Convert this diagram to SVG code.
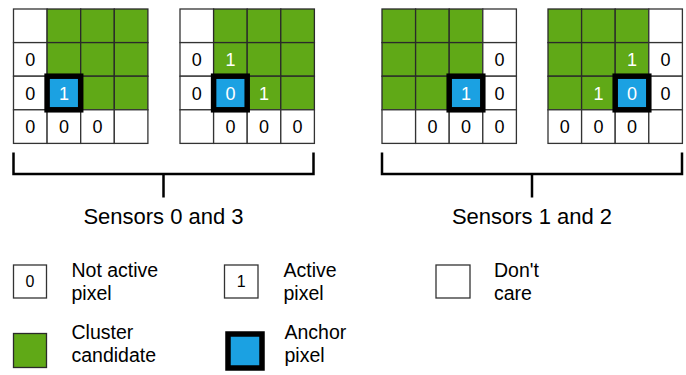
<svg xmlns="http://www.w3.org/2000/svg" width="686" height="375" viewBox="0 0 686 375">
<style>
.w{fill:#ffffff;stroke:#333333;stroke-width:1.3}
.g{fill:#60a917;stroke:#2a2a2a;stroke-width:1.3}
.a{fill:#1ba1e2;stroke:#000000;stroke-width:5.5}
.t{font-family:"Liberation Sans",Arial,sans-serif;font-size:18px;text-anchor:middle;fill:#000}
.tw{font-family:"Liberation Sans",Arial,sans-serif;font-size:18px;text-anchor:middle;fill:#ffffff}
.lbl{font-family:"Liberation Sans",Arial,sans-serif;font-size:22px;text-anchor:middle;fill:#000}
.leg{font-family:"Liberation Sans",Arial,sans-serif;font-size:19.5px;fill:#000}
.ld{font-family:"Liberation Sans",Arial,sans-serif;font-size:16px;text-anchor:middle;fill:#000}
.br{fill:none;stroke:#000;stroke-width:2.5}
</style>
<rect width="686" height="375" fill="#ffffff"/>

<g id="grid1" transform="translate(13.5,9)">
<rect class="w" x="0" y="0" width="33.6" height="33.6"/>
<rect class="g" x="33.6" y="0" width="33.6" height="33.6"/>
<rect class="g" x="67.2" y="0" width="33.6" height="33.6"/>
<rect class="g" x="100.8" y="0" width="33.6" height="33.6"/>
<rect class="w" x="0" y="33.6" width="33.6" height="33.6"/>
<rect class="g" x="33.6" y="33.6" width="33.6" height="33.6"/>
<rect class="g" x="67.2" y="33.6" width="33.6" height="33.6"/>
<rect class="g" x="100.8" y="33.6" width="33.6" height="33.6"/>
<rect class="w" x="0" y="67.2" width="33.6" height="33.6"/>
<rect class="g" x="67.2" y="67.2" width="33.6" height="33.6"/>
<rect class="g" x="100.8" y="67.2" width="33.6" height="33.6"/>
<rect class="w" x="0" y="100.8" width="33.6" height="33.6"/>
<rect class="w" x="33.6" y="100.8" width="33.6" height="33.6"/>
<rect class="w" x="67.2" y="100.8" width="33.6" height="33.6"/>
<rect class="w" x="100.8" y="100.8" width="33.6" height="33.6"/>
<rect class="a" x="33.6" y="67.2" width="33.6" height="33.6"/>
<text class="t" x="16.8" y="57">0</text>
<text class="t" x="16.8" y="90.6">0</text>
<text class="tw" x="50.4" y="90.6">1</text>
<text class="t" x="16.8" y="124.2">0</text>
<text class="t" x="50.4" y="124.2">0</text>
<text class="t" x="84" y="124.2">0</text>
</g>

<g id="grid2" transform="translate(180,9)">
<rect class="w" x="0" y="0" width="33.6" height="33.6"/>
<rect class="g" x="33.6" y="0" width="33.6" height="33.6"/>
<rect class="g" x="67.2" y="0" width="33.6" height="33.6"/>
<rect class="g" x="100.8" y="0" width="33.6" height="33.6"/>
<rect class="w" x="0" y="33.6" width="33.6" height="33.6"/>
<rect class="g" x="33.6" y="33.6" width="33.6" height="33.6"/>
<rect class="g" x="67.2" y="33.6" width="33.6" height="33.6"/>
<rect class="g" x="100.8" y="33.6" width="33.6" height="33.6"/>
<rect class="w" x="0" y="67.2" width="33.6" height="33.6"/>
<rect class="g" x="67.2" y="67.2" width="33.6" height="33.6"/>
<rect class="g" x="100.8" y="67.2" width="33.6" height="33.6"/>
<rect class="w" x="0" y="100.8" width="33.6" height="33.6"/>
<rect class="w" x="33.6" y="100.8" width="33.6" height="33.6"/>
<rect class="w" x="67.2" y="100.8" width="33.6" height="33.6"/>
<rect class="w" x="100.8" y="100.8" width="33.6" height="33.6"/>
<rect class="a" x="33.6" y="67.2" width="33.6" height="33.6"/>
<text class="t" x="16.8" y="57">0</text>
<text class="tw" x="50.4" y="57">1</text>
<text class="t" x="16.8" y="90.6">0</text>
<text class="tw" x="50.4" y="90.6">0</text>
<text class="tw" x="84" y="90.6">1</text>
<text class="t" x="50.4" y="124.2">0</text>
<text class="t" x="84" y="124.2">0</text>
<text class="t" x="117.6" y="124.2">0</text>
</g>

<g id="grid3" transform="translate(382,9)">
<rect class="g" x="0" y="0" width="33.6" height="33.6"/>
<rect class="g" x="33.6" y="0" width="33.6" height="33.6"/>
<rect class="g" x="67.2" y="0" width="33.6" height="33.6"/>
<rect class="w" x="100.8" y="0" width="33.6" height="33.6"/>
<rect class="g" x="0" y="33.6" width="33.6" height="33.6"/>
<rect class="g" x="33.6" y="33.6" width="33.6" height="33.6"/>
<rect class="g" x="67.2" y="33.6" width="33.6" height="33.6"/>
<rect class="w" x="100.8" y="33.6" width="33.6" height="33.6"/>
<rect class="g" x="0" y="67.2" width="33.6" height="33.6"/>
<rect class="g" x="33.6" y="67.2" width="33.6" height="33.6"/>
<rect class="w" x="100.8" y="67.2" width="33.6" height="33.6"/>
<rect class="w" x="0" y="100.8" width="33.6" height="33.6"/>
<rect class="w" x="33.6" y="100.8" width="33.6" height="33.6"/>
<rect class="w" x="67.2" y="100.8" width="33.6" height="33.6"/>
<rect class="w" x="100.8" y="100.8" width="33.6" height="33.6"/>
<rect class="a" x="67.2" y="67.2" width="33.6" height="33.6"/>
<text class="t" x="117.6" y="57">0</text>
<text class="tw" x="84" y="90.6">1</text>
<text class="t" x="117.6" y="90.6">0</text>
<text class="t" x="50.4" y="124.2">0</text>
<text class="t" x="84" y="124.2">0</text>
<text class="t" x="117.6" y="124.2">0</text>
</g>

<g id="grid4" transform="translate(548,9)">
<rect class="g" x="0" y="0" width="33.6" height="33.6"/>
<rect class="g" x="33.6" y="0" width="33.6" height="33.6"/>
<rect class="g" x="67.2" y="0" width="33.6" height="33.6"/>
<rect class="w" x="100.8" y="0" width="33.6" height="33.6"/>
<rect class="g" x="0" y="33.6" width="33.6" height="33.6"/>
<rect class="g" x="33.6" y="33.6" width="33.6" height="33.6"/>
<rect class="g" x="67.2" y="33.6" width="33.6" height="33.6"/>
<rect class="w" x="100.8" y="33.6" width="33.6" height="33.6"/>
<rect class="g" x="0" y="67.2" width="33.6" height="33.6"/>
<rect class="g" x="33.6" y="67.2" width="33.6" height="33.6"/>
<rect class="w" x="100.8" y="67.2" width="33.6" height="33.6"/>
<rect class="w" x="0" y="100.8" width="33.6" height="33.6"/>
<rect class="w" x="33.6" y="100.8" width="33.6" height="33.6"/>
<rect class="w" x="67.2" y="100.8" width="33.6" height="33.6"/>
<rect class="w" x="100.8" y="100.8" width="33.6" height="33.6"/>
<rect class="a" x="67.2" y="67.2" width="33.6" height="33.6"/>
<text class="tw" x="84" y="57">1</text>
<text class="t" x="117.6" y="57">0</text>
<text class="tw" x="50.4" y="90.6">1</text>
<text class="tw" x="84" y="90.6">0</text>
<text class="t" x="117.6" y="90.6">0</text>
<text class="t" x="16.8" y="124.2">0</text>
<text class="t" x="50.4" y="124.2">0</text>
<text class="t" x="84" y="124.2">0</text>
</g>

<g id="connectors">
<path class="br" d="M13.5 152.5 V174 H313.5 V152.5 M163.5 174 V197.5"/>
<path class="br" d="M382 152.5 V174 H682 V152.5 M532 174 V197.5"/>
</g>

<g id="label-left"><text class="lbl" x="163.5" y="224">Sensors 0 and 3</text></g>
<g id="label-right"><text class="lbl" x="532" y="224">Sensors 1 and 2</text></g>

<g id="legend-not-active">
<rect class="w" x="13.5" y="265" width="33" height="33"/>
<text class="ld" x="30" y="287.3">0</text>
<text class="leg" x="71.5" y="276.5">Not active</text>
<text class="leg" x="71.5" y="300">pixel</text>
</g>
<g id="legend-active">
<rect class="w" x="224.5" y="265" width="33.5" height="33"/>
<text class="ld" x="241.3" y="287.3">1</text>
<text class="leg" x="283.5" y="276.5">Active</text>
<text class="leg" x="283.5" y="300">pixel</text>
</g>
<g id="legend-dont-care">
<rect class="w" x="436" y="265" width="34" height="33"/>
<text class="leg" x="494" y="276.5">Don't</text>
<text class="leg" x="494" y="300">care</text>
</g>
<g id="legend-cluster">
<rect class="g" x="13.5" y="333.5" width="33" height="34"/>
<text class="leg" x="71.5" y="338.7">Cluster</text>
<text class="leg" x="71.5" y="362.3">candidate</text>
</g>
<g id="legend-anchor">
<rect class="a" x="228" y="334" width="34" height="34"/>
<text class="leg" x="284.5" y="338.7">Anchor</text>
<text class="leg" x="284.5" y="362.3">pixel</text>
</g>
</svg>
